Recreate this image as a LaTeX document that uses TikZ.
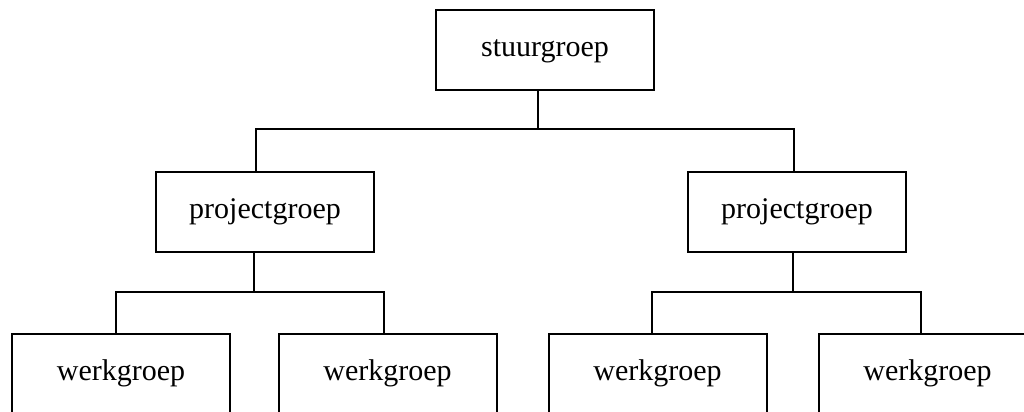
\documentclass[tikz,border=0pt]{standalone}
\usepackage{fontspec}
\setmainfont{Liberation Serif}
\begin{document}
\begin{tikzpicture}[x=0.5pt,y=-0.5pt,
		groep/.style={draw, line width=1pt, minimum width=109pt, minimum height=40pt, inner sep=0pt, text height=10pt, text depth=3.5pt, font=\fontsize{15}{18}\selectfont},
		lijn/.style={line width=1pt}]
		\useasboundingbox (0,0) rectangle (1024,412);
		\clip (0,0) rectangle (1024,412);
		% boxes
		\node[groep] (stuur) at (545,49.5) {stuurgroep};
		\node[groep] (projL) at (265,212) {projectgroep};
		\node[groep] (projR) at (797,212) {projectgroep};
		\node[groep] (werkA) at (121,374) {werkgroep};
		\node[groep] (werkB) at (387.5,374) {werkgroep};
		\node[groep] (werkC) at (657.5,374) {werkgroep};
		\node[groep] (werkD) at (927.5,374) {werkgroep};
		% junctions on the bars
		\coordinate (top) at (538,129);
		\coordinate (topL) at (256,129);
		\coordinate (topR) at (794,129);
		\coordinate (midL) at (254,292);
		\coordinate (midLa) at (116,292);
		\coordinate (midLb) at (384,292);
		\coordinate (midR) at (793,292);
		\coordinate (midRa) at (652,292);
		\coordinate (midRb) at (921,292);
		% top level
		\draw[lijn] (top |- stuur.south) -- (top);
		\draw[lijn] (topL |- projL.north) -- (topL) -- (topR) -- (topR |- projR.north);
		% left branch
		\draw[lijn] (midL |- projL.south) -- (midL);
		\draw[lijn] (midLa |- werkA.north) -- (midLa) -- (midLb) -- (midLb |- werkB.north);
		% right branch
		\draw[lijn] (midR |- projR.south) -- (midR);
		\draw[lijn] (midRa |- werkC.north) -- (midRa) -- (midRb) -- (midRb |- werkD.north);
	\end{tikzpicture}
\end{document}
